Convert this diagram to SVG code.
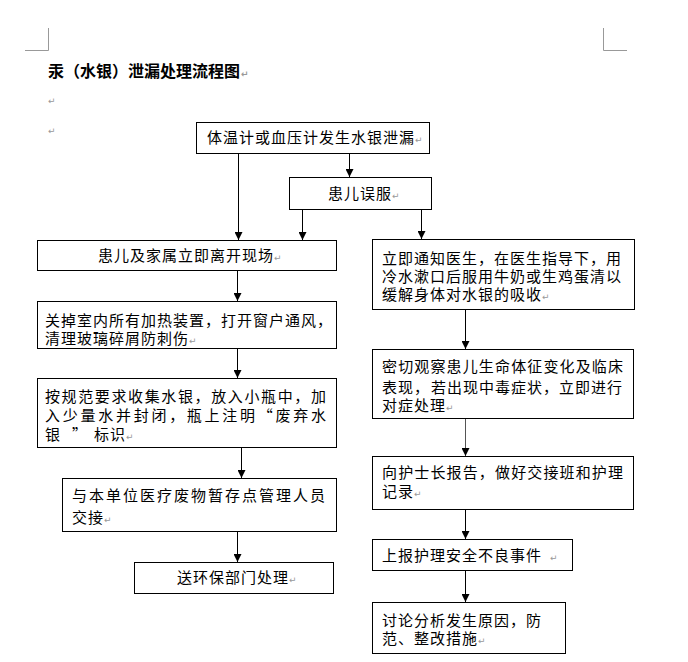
<svg xmlns="http://www.w3.org/2000/svg" width="688" height="662" viewBox="0 0 688 662">
<style>
.bg{fill:#fff}
.box{fill:#fff;stroke:#000;stroke-width:1}
.t{font-family:"Noto Sans CJK SC","Noto Sans CJK JP",sans-serif;font-size:15px;letter-spacing:1px;fill:#000}
.title{font-family:"Noto Sans CJK SC","Noto Sans CJK JP",sans-serif;font-size:16px;font-weight:bold;fill:#000}
.pm{font-family:"DejaVu Sans",sans-serif;font-size:9px;fill:#999;letter-spacing:0}
.corner{fill:none;stroke:#999;stroke-width:1}
.con{fill:none;stroke:#000;stroke-width:1;marker-end:url(#ah)}
</style>
<defs>
<marker id="ah" markerUnits="userSpaceOnUse" markerWidth="8" markerHeight="8" refX="8" refY="4" orient="auto">
<path d="M0,0 L8,4 L0,8 z" fill="#000"/>
</marker>
</defs>
<rect class="bg" x="0" y="0" width="688" height="662"/>
<g id="page-marks">
<path class="corner" d="M48.5,28 V50.5 H25"/>
<path class="corner" d="M603.5,28 V50.5 H627"/>
<text class="title" x="48" y="77">汞（水银）泄漏处理流程图<tspan class="pm" dx="1">↵</tspan></text>
<text class="pm" x="48" y="104">↵</text>
<text class="pm" x="48" y="134">↵</text>
</g>
<g id="connectors">
<line class="con" x1="238.5" y1="153" x2="238.5" y2="240"/>
<line class="con" x1="349.5" y1="153" x2="349.5" y2="177"/>
<line class="con" x1="302.5" y1="209" x2="302.5" y2="240"/>
<line class="con" x1="421.5" y1="209" x2="421.5" y2="239"/>
<line class="con" x1="237.5" y1="270" x2="237.5" y2="301"/>
<line class="con" x1="237.5" y1="348" x2="237.5" y2="378"/>
<line class="con" x1="465.5" y1="309" x2="465.5" y2="349"/>
<line class="con" x1="241.5" y1="447" x2="241.5" y2="478"/>
<line class="con" x1="237.5" y1="531" x2="237.5" y2="562"/>
<line class="con" x1="465.5" y1="418" x2="465.5" y2="456" style="stroke:#555"/>
<line class="con" x1="465.5" y1="509" x2="465.5" y2="539"/>
<line class="con" x1="465.5" y1="570" x2="465.5" y2="602"/>
</g>
<g id="n-leak">
<rect class="box" x="196.5" y="122.5" width="233" height="31"/>
<text class="t" x="207" y="143">体温计或血压计发生水银泄漏<tspan class="pm">↵</tspan></text>
</g>
<g id="n-swallow">
<rect class="box" x="289.5" y="177.5" width="142" height="32"/>
<text class="t" x="328" y="199">患儿误服<tspan class="pm">↵</tspan></text>
</g>
<g id="n-leave">
<rect class="box" x="37.5" y="240.5" width="299" height="30"/>
<text class="t" x="98" y="261">患儿及家属立即离开现场<tspan class="pm">↵</tspan></text>
</g>
<g id="n-ventilate">
<rect class="box" x="37.5" y="301.5" width="299" height="47"/>
<text class="t" x="45" y="326" textLength="288" lengthAdjust="spacing">关掉室内所有加热装置，打开窗户通风，</text>
<text class="t" x="45" y="344">清理玻璃碎屑防刺伤<tspan class="pm">↵</tspan></text>
</g>
<g id="n-collect">
<rect class="box" x="37.5" y="378.5" width="299" height="69"/>
<text class="t" x="45" y="402" textLength="282" lengthAdjust="spacing">按规范要求收集水银，放入小瓶中，加</text>
<text class="t" x="45" y="421" textLength="282" lengthAdjust="spacing">入少量水并封闭，瓶上注明“废弃水</text>
<text class="t" x="45" y="440">银<tspan x="72">”</tspan><tspan x="94">标识</tspan><tspan class="pm">↵</tspan></text>
</g>
<g id="n-handover">
<rect class="box" x="62.5" y="478.5" width="274" height="53"/>
<text class="t" x="72" y="501" textLength="254" lengthAdjust="spacing">与本单位医疗废物暂存点管理人员</text>
<text class="t" x="72" y="523">交接<tspan class="pm">↵</tspan></text>
</g>
<g id="n-env">
<rect class="box" x="134.5" y="562.5" width="199" height="31"/>
<text class="t" x="177" y="583">送环保部门处理<tspan class="pm">↵</tspan></text>
</g>
<g id="n-doctor">
<rect class="box" x="372.5" y="239.5" width="262" height="70"/>
<text class="t" x="382" y="264" textLength="240" lengthAdjust="spacing">立即通知医生，在医生指导下，用</text>
<text class="t" x="382" y="282" textLength="240" lengthAdjust="spacing">冷水漱口后服用牛奶或生鸡蛋清以</text>
<text class="t" x="382" y="300">缓解身体对水银的吸收<tspan class="pm">↵</tspan></text>
</g>
<g id="n-observe">
<rect class="box" x="372.5" y="349.5" width="261" height="69"/>
<text class="t" x="382" y="372" textLength="242" lengthAdjust="spacing">密切观察患儿生命体征变化及临床</text>
<text class="t" x="382" y="393">表现，<tspan x="431">若出现中毒症状，立即进行</tspan></text>
<text class="t" x="382" y="411">对症处理<tspan class="pm">↵</tspan></text>
</g>
<g id="n-report-nurse">
<rect class="box" x="372.5" y="456.5" width="261" height="53"/>
<text class="t" x="382" y="478" textLength="242" lengthAdjust="spacing">向护士长报告，做好交接班和护理</text>
<text class="t" x="382" y="497">记录<tspan class="pm">↵</tspan></text>
</g>
<g id="n-report-event">
<rect class="box" x="372.5" y="539.5" width="200" height="31"/>
<text class="t" x="382" y="561">上报护理安全不良事件<tspan class="pm" x="550">↵</tspan></text>
</g>
<g id="n-discuss">
<rect class="box" x="372.5" y="602.5" width="193" height="51"/>
<text class="t" x="382" y="626">讨论分析发生原因，防</text>
<text class="t" x="382" y="644">范、<tspan x="414">整改措施</tspan><tspan class="pm">↵</tspan></text>
</g>
</svg>
